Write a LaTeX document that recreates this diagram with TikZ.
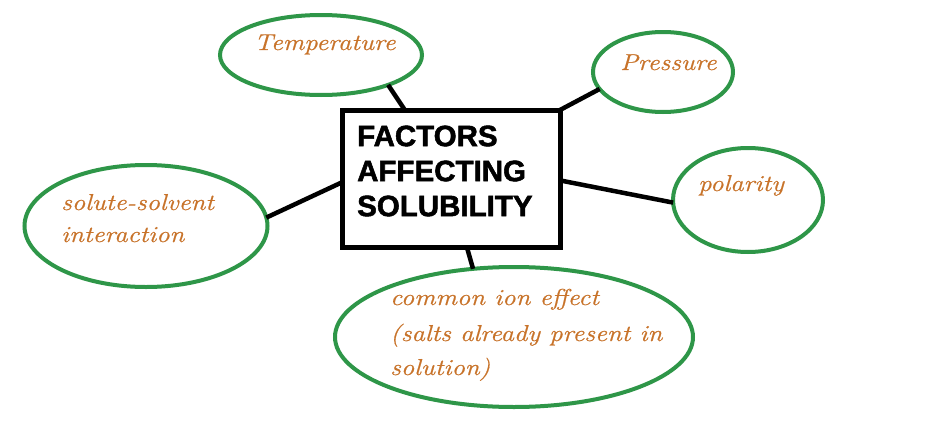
\documentclass[tikz,border=0pt]{standalone}
\usepackage{fontspec}
\usetikzlibrary{shapes.geometric}
\newfontfamily\titlefont{Liberation Sans}[FakeBold=1.8]
\newfontfamily\handfont{Latin Modern Roman}[FakeStretch=1.16,FakeBold=0.7]
\definecolor{ringgreen}{RGB}{46,150,72}
\definecolor{labelorange}{RGB}{200,115,42}
\tikzset{
  factor/.style={ellipse, draw=ringgreen, line width=4pt, inner sep=0pt, outer sep=0pt},
  factorlabel/.style={anchor=base west, inner sep=0pt, text=labelorange, font=\handfont\itshape\fontsize{23}{35}\selectfont},
  link/.style={line width=4.5pt, black},
  centerbox/.style={draw=black, line width=5pt, minimum width=218pt, minimum height=137pt, inner sep=0pt, outer sep=0pt}
}
\begin{document}
\begin{tikzpicture}[x=1pt,y=-1pt]
\useasboundingbox (0,0) rectangle (937,439);
\fill[white] (0,0) rectangle (937,439);
% centre box
\node[centerbox] (box) at (451,178.5) {};
\node[anchor=west, inner sep=0pt, align=left, font=\titlefont\bfseries\fontsize{29.5}{35}\selectfont] (title) at (357,171) {FACTORS\\AFFECTING\\SOLUBILITY};
% factor ellipses
\node[factor, minimum width=202pt, minimum height=80pt] (temp) at (321,55) {};
\node[factor, minimum width=140pt, minimum height=80pt] (press) at (663,72) {};
\node[factor, minimum width=150pt, minimum height=104pt] (polar) at (748,200) {};
\node[factor, minimum width=243pt, minimum height=122pt] (solute) at (146,226) {};
\node[factor, minimum width=358pt, minimum height=140pt] (common) at (514,337) {};
% labels
\node[factorlabel] (ltemp) at (254,50) {Temperature};
\node[factorlabel] (lpress) at (620,70) {Pressure};
\node[factorlabel] (lpolar) at (698,191) {polarity};
\node[factorlabel] (lsol1) at (61,210) {solute-solvent};
\node[factorlabel] (lsol2) at (61,242) {interaction};
\node[factorlabel] (lcom1) at (390,305) {common ion effect};
\node[factorlabel] (lcom2) at (390,341) {(salts already present in};
\node[factorlabel] (lcom3) at (390,375) {solution)};
% connectors
\draw[link] (temp.-24) -- (box.124);
\draw[link] (press.195) -- (box.north east);
\draw[link] (box.-1) -- (polar.182);
\draw[link] (solute.4) -- (box.182);
\draw[link] (box.-77) -- (common.121);
\end{tikzpicture}
\end{document}
